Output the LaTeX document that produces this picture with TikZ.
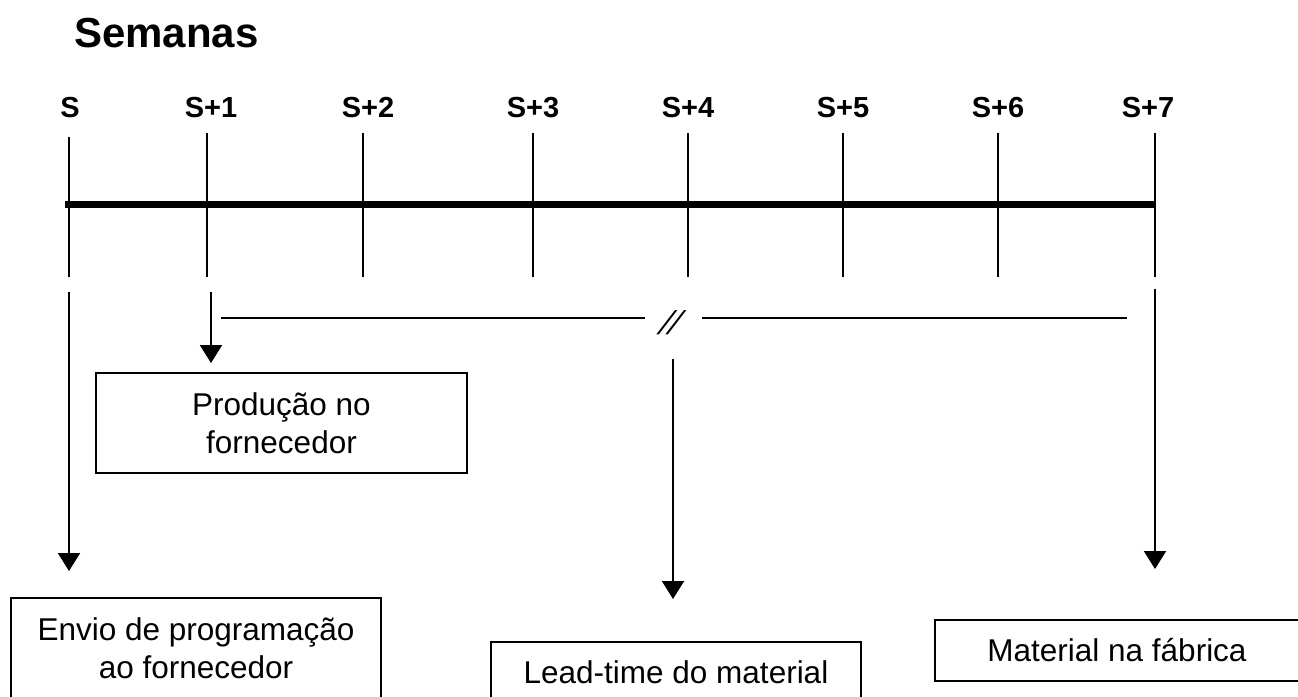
\documentclass[tikz,border=0pt]{standalone}
\usepackage{fontspec}
\setmainfont{Liberation Sans}
\usetikzlibrary{arrows.meta}
\begin{document}
\begin{tikzpicture}[x=1pt,y=-1pt,line width=2pt,
    semana/.style={anchor=base,font=\bfseries\fontsize{29}{34}\selectfont},
    caixa/.style={draw,align=center,inner sep=0pt,font=\fontsize{31.5}{38}\selectfont},
    seta/.style={-{Triangle[width=22pt,length=18pt]}}]
      \useasboundingbox (0,0) rectangle (1298,696);
      \node[anchor=base,font=\bfseries\fontsize{42}{50}\selectfont] (titulo) at (166.5,47) {Semanas};
      \path
        (70,117) node[semana] (s0){S}
        (211,117) node[semana] (s1){S+1}
        (368,117) node[semana] (s2){S+2}
        (533,117) node[semana] (s3){S+3}
        (688,117) node[semana] (s4){S+4}
        (843,117) node[semana] (s5){S+5}
        (998,117) node[semana] (s6){S+6}
        (1148,117) node[semana] (s7){S+7};
      \path
        (69,137) coordinate (t0) (69,277) coordinate (b0)
        (207,133) coordinate (t1) (207,277) coordinate (b1)
        (363,133) coordinate (t2) (363,277) coordinate (b2)
        (533,133) coordinate (t3) (533,277) coordinate (b3)
        (688,133) coordinate (t4) (688,277) coordinate (b4)
        (843,133) coordinate (t5) (843,277) coordinate (b5)
        (998,133) coordinate (t6) (998,277) coordinate (b6)
        (1155,133) coordinate (t7) (1155,277) coordinate (b7)
        (65,204) coordinate (inicio) (1155,204) coordinate (fim);
      % linha do tempo
      \draw[line width=7pt] (inicio) -- (fim);
      \draw (t0) -- (b0);
      \draw (t1) -- (b1);
      \draw (t2) -- (b2);
      \draw (t3) -- (b3);
      \draw (t4) -- (b4);
      \draw (t5) -- (b5);
      \draw (t6) -- (b6);
      \draw (t7) -- (b7);
      % caixas
      \node[caixa,minimum width=371pt,minimum height=100pt] (producao) at (281.5,423) {Produção no\\fornecedor};
      \node[caixa,minimum width=370pt,minimum height=100pt] (envio) at (196,648) {Envio de programação\\ao fornecedor};
      \node[caixa,minimum width=370pt,minimum height=61pt] (leadtime) at (676,672.5) {Lead-time do material};
      \node[caixa,minimum width=364pt,minimum height=61pt] (fabrica) at (1117,650.5) {Material na fábrica};
      \node[font=\itshape\fontsize{33}{38}\selectfont,xslant=0.3,transform shape] (quebra) at (671,323) {//};
      \path
        (69,292) coordinate (a0) (69,571) coordinate (p0)
        (211,292) coordinate (a1) (211,363) coordinate (p1)
        (673,359) coordinate (a4) (673,599) coordinate (p4)
        (1155,289) coordinate (a7) (1155,569) coordinate (p7)
        (221,318) coordinate (h1) (645,318) coordinate (h2)
        (702,318) coordinate (h3) (1127,318) coordinate (h4);
      \begin{scope}[seta]
        \draw (a0) to (p0);
        \draw (a1) to (p1);
        \draw (a4) to (p4);
        \draw (a7) to (p7);
      \end{scope}
      \draw (h1) -- (h2);
      \draw (h3) -- (h4);
    \end{tikzpicture}
\end{document}
